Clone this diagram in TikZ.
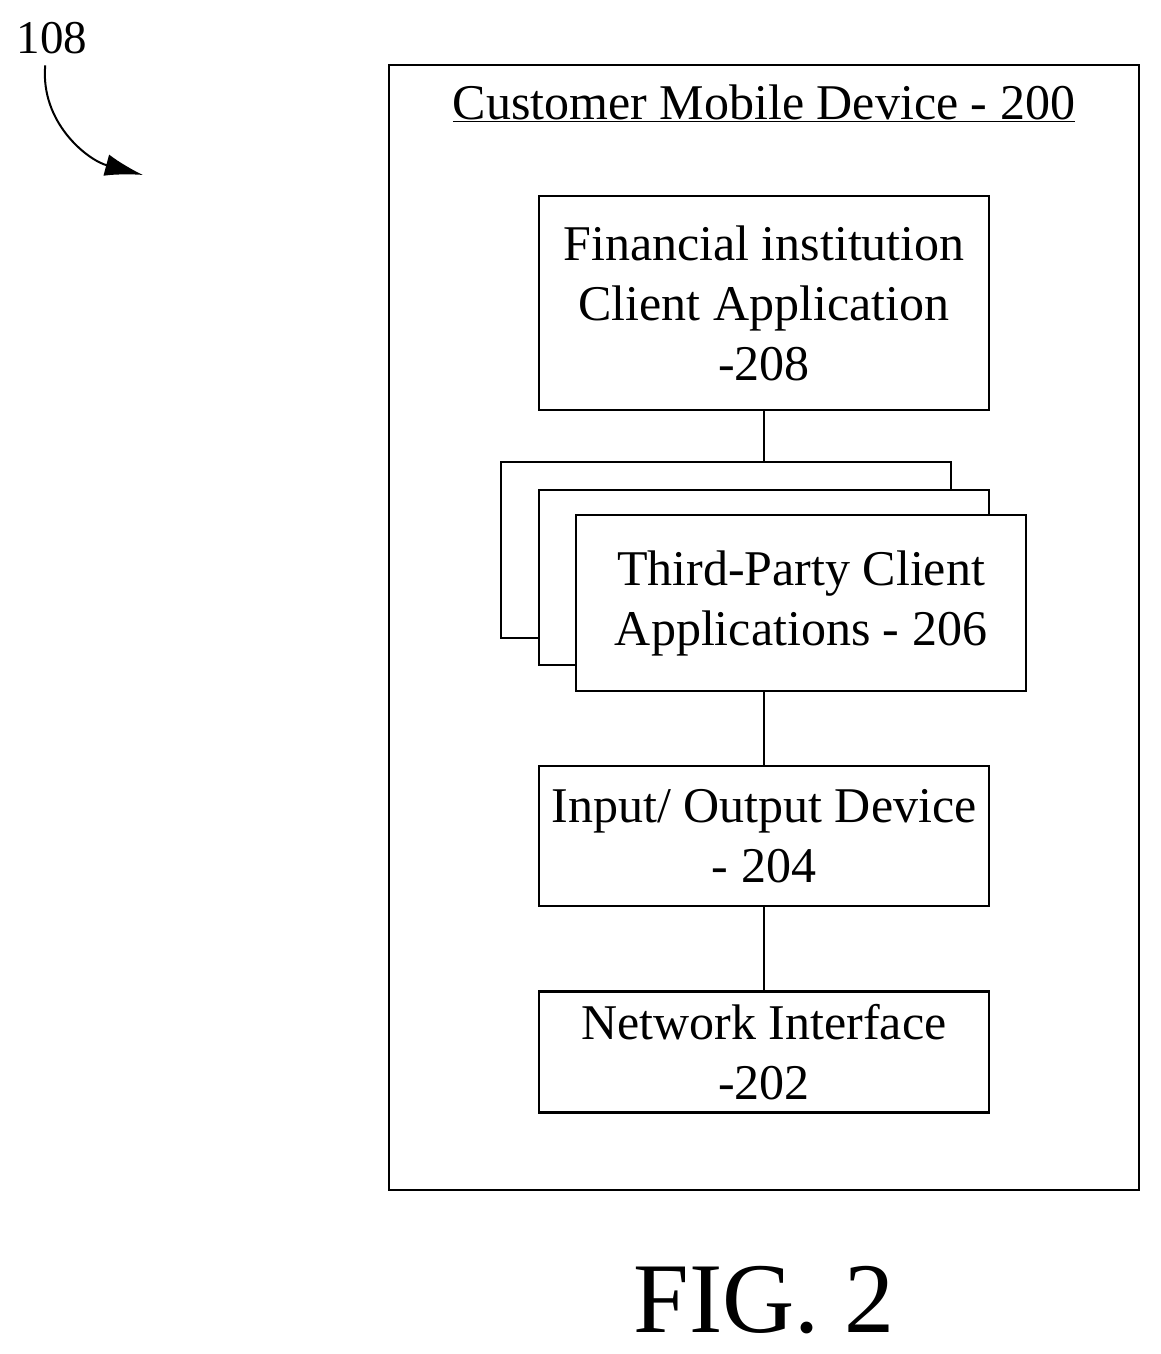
\documentclass[tikz,border=0pt]{standalone}
\usepackage{fontspec}
\setmainfont{Liberation Serif}
\usetikzlibrary{positioning}
\usetikzlibrary{arrows.meta}
\begin{document}
\begin{tikzpicture}[x=1pt,y=-1pt,
    boxnode/.style={rectangle, draw, line width=2.4pt, align=center, minimum width=450pt, inner sep=0pt, font=\fontsize{50}{60}\selectfont},
    link/.style={line width=1.5pt},
  ]
  \useasboundingbox (0,0) rectangle (1161,1354);
  % Nodes
  \node[draw, line width=2.4pt, minimum width=750pt, minimum height=1125pt, inner sep=0pt] (device) at (764,627.5) {};
  \node[font=\fontsize{50}{58}\selectfont] (title) at (764,103) {\underline{Customer Mobile Device - 200}};
  \node[boxnode, minimum height=214pt] (app208) at (764,303) {Financial institution\\Client Application\\-208};
  \node[boxnode, minimum height=176pt] (back206) at (726,550) {};
  \node[boxnode, minimum height=175pt, fill=white] (mid206) at (764,577.5) {};
  \node[boxnode, minimum height=176pt, fill=white] (app206) at (801,603) {Third-Party Client\\Applications - 206};
  \node[boxnode, minimum height=140pt] (io204) at (764,836) {Input/ Output Device\\- 204};
  \node[boxnode, minimum height=121pt] (net202) at (764,1052) {Network Interface\\-202};
  \node[font=\fontsize{47}{54}\selectfont] (ref108) at (52,38) {108};
  \coordinate (tip108) at (143,175);
  \node[font=\fontsize{100}{110}\selectfont] (fig) at (764,1300) {FIG. 2};

  %Lines
  \draw[link] (app208.south) -- (app208.south |- back206.north);
  \draw[link] (app206.south -| io204.north) -- (io204.north);
  \draw[link] (io204.south) -- (net202.north);
  \draw[line width=2pt, -{Latex[length=38pt,width=22pt]}] (ref108.south west) ++(32,8) to[out=-95,in=165] (tip108);
\end{tikzpicture}
\end{document}
